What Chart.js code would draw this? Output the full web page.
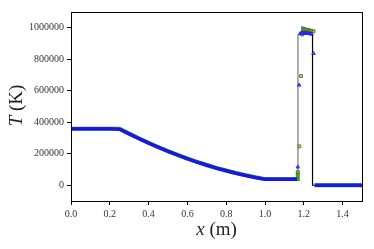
<!DOCTYPE html>
<html>
<head>
<meta charset="utf-8">
<script src="https://cdn.jsdelivr.net/npm/chart.js@4/dist/chart.umd.min.js"></script>
<style>
  html, body { margin: 0; padding: 0; background: #fff; }
  #wrap { width: 374px; height: 249px; }
</style>
</head>
<body>
<div id="wrap"><canvas id="chart"></canvas></div>
<script>
// exact solution (black)
const exactX = [0, 0.25, 0.3, 0.35, 0.4, 0.45, 0.5, 0.55, 0.6, 0.65, 0.7, 0.75, 0.8, 0.85, 0.9, 0.95, 1.0, 1.17, 1.17, 1.245, 1.245, 1.5];
const exactT = [358000, 358000, 326000, 296000, 268000, 241000, 215000, 191000, 168000, 147000, 127000, 108000, 92000, 76000, 62000, 49000, 38000, 38000, 957000, 957000, 0, 0];

// numerical solution, blue triangles
const blueX = [0, 0.05, 0.1, 0.15, 0.2, 0.25, 0.3, 0.35, 0.4, 0.45, 0.5, 0.55, 0.6, 0.65, 0.7, 0.75, 0.8, 0.85, 0.9, 0.95, 1.0, 1.05, 1.1, 1.15, 1.165,
  1.169, 1.176, 1.181, 1.19, 1.2, 1.21, 1.22, 1.23, 1.24, 1.25, 1.256, 1.3, 1.35, 1.4, 1.45, 1.5];
const blueT = [358000, 358000, 358000, 358000, 358000, 356000, 326000, 296000, 268000, 241000, 215000, 191000, 168000, 147000, 127000, 108000, 92000, 76000, 62000, 49000, 38000, 38000, 38000, 38000, 38000,
  116000, 636000, 962000, 966000, 966000, 965000, 965000, 963000, 960000, 837000, 0, 0, 0, 0, 0, 0];

// numerical solution, green squares
const greenX = [0, 0.25, 0.3, 0.35, 0.4, 0.45, 0.5, 0.55, 0.6, 0.65, 0.7, 0.75, 0.8, 0.85, 0.9, 0.95, 1.0, 1.1, 1.165,
  1.169, 1.177, 1.186, 1.192, 1.197, 1.205, 1.213, 1.221, 1.229, 1.237, 1.25, 1.256, 1.35, 1.5];
const greenT = [359000, 359000, 328000, 298000, 270000, 243000, 217000, 193000, 170000, 149000, 129000, 110000, 94000, 78000, 64000, 51000, 39000, 39000, 39000,
  84000, 247000, 693000, 957000, 994000, 990000, 987000, 985000, 983000, 980000, 978000, 0, 0, 0];

const xTicks = [0, 0.2, 0.4, 0.6, 0.8, 1.0, 1.2, 1.4];
const yTicks = [0, 200000, 400000, 600000, 800000, 1000000];

function pts(xs, ys) {
  return xs.map((x, i) => ({ x: x, y: ys[i] }));
}

// markers only show up around the shock
function shockRadius(ctx) {
  const p = ctx.raw;
  if (!p) return 0;
  return (p.x > 1.166 && p.x < 1.255) ? 2 : 0;
}
function hideJumps(color) {
  return ctx => Math.abs(ctx.p1.parsed.y - ctx.p0.parsed.y) > 60000 ? 'rgba(0,0,0,0)' : color;
}

const serif = '"Liberation Serif", "DejaVu Serif", serif';

const frameAndTitles = {
  id: 'frameAndTitles',
  afterDraw(chart) {
    const c = chart.ctx;
    const a = chart.chartArea;
    c.save();
    c.strokeStyle = '#000';
    c.lineWidth = 1;
    c.strokeRect(Math.round(a.left) + 0.5, Math.round(a.top) + 0.5, Math.round(a.right - a.left), Math.round(a.bottom - a.top));

    c.fillStyle = '#222';
    c.textBaseline = 'middle';
    const fs = 19;
    // x label
    c.font = 'italic ' + fs + 'px ' + serif;
    const w1 = c.measureText('x').width;
    c.font = fs + 'px ' + serif;
    const w2 = c.measureText(' (m)').width;
    let sx = (a.left + a.right) / 2 - (w1 + w2) / 2;
    c.font = 'italic ' + fs + 'px ' + serif;
    c.fillText('x', sx, 230);
    c.font = fs + 'px ' + serif;
    c.fillText(' (m)', sx + w1, 230);

    // y label
    c.translate(17, (a.top + a.bottom) / 2 - 1);
    c.rotate(-Math.PI / 2);
    c.font = 'italic ' + fs + 'px ' + serif;
    const v1 = c.measureText('T').width;
    c.font = fs + 'px ' + serif;
    const v2 = c.measureText(' (K)').width;
    sx = -(v1 + v2) / 2;
    c.font = 'italic ' + fs + 'px ' + serif;
    c.fillText('T', sx, 0);
    c.font = fs + 'px ' + serif;
    c.fillText(' (K)', sx + v1, 0);
    c.restore();
  }
};

new Chart(document.getElementById('chart'), {
  type: 'line',
  data: {
    datasets: [
      {
        label: 'exact',
        data: pts(exactX, exactT),
        borderColor: '#000',
        borderWidth: 1.2,
        pointRadius: 0,
        segment: {
          borderColor: ctx => (ctx.p0.parsed.x === ctx.p1.parsed.x && ctx.p0.parsed.x < 1.2) ? '#777' : '#000'
        },
        order: 4
      },
      {
        label: 'green',
        data: pts(greenX, greenT),
        borderColor: '#3f9a2a',
        borderWidth: 4,
        pointStyle: 'rect',
        pointRadius: shockRadius,
        pointBorderColor: '#4a7d10',
        pointBackgroundColor: 'rgba(210,180,60,0.5)',
        pointBorderWidth: 1,
        segment: { borderColor: hideJumps('#3f9a2a') },
        order: 3
      },
      {
        label: 'blue',
        data: pts(blueX, blueT),
        borderColor: '#1818e6',
        borderWidth: 3.5,
        pointStyle: 'triangle',
        pointRadius: shockRadius,
        pointBorderColor: '#2424f4',
        pointBackgroundColor: 'rgba(60,60,255,0.6)',
        pointBorderWidth: 1,
        segment: { borderColor: hideJumps('#1818e6') },
        order: 2
      }
    ]
  },
  options: {
    responsive: true,
    maintainAspectRatio: false,
    animation: false,
    layout: { padding: { left: 0, right: 12, top: 12, bottom: 0 } },
    plugins: {
      legend: { display: false },
      tooltip: { enabled: false }
    },
    scales: {
      x: {
        type: 'linear',
        min: 0,
        max: 1.5,
        afterBuildTicks: scale => { scale.ticks = xTicks.map(v => ({ value: v })); },
        afterFit: scale => { scale.height = 48; },
        grid: { drawOnChartArea: false, tickLength: 4, color: '#000' },
        border: { color: '#000' },
        ticks: {
          color: '#333',
          font: { family: serif, size: 10 },
          padding: 3,
          maxRotation: 0,
          callback: v => Number(v).toFixed(1)
        }
      },
      y: {
        type: 'linear',
        min: -100000,
        max: 1100000,
        afterBuildTicks: scale => { scale.ticks = yTicks.map(v => ({ value: v })); },
        afterFit: scale => { scale.width = 71; },
        grid: { drawOnChartArea: false, tickLength: 4, color: '#000' },
        border: { color: '#000' },
        ticks: {
          color: '#333',
          font: { family: serif, size: 10 },
          padding: 3,
          callback: v => String(v)
        }
      }
    }
  },
  plugins: [frameAndTitles]
});
</script>
</body>
</html>
